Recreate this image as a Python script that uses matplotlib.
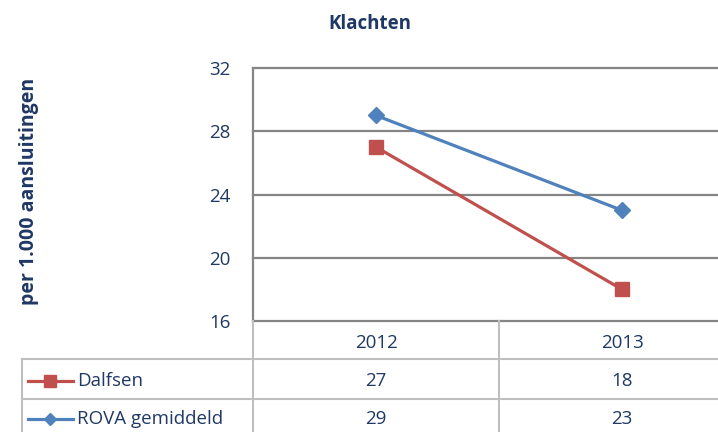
import numpy as np
import matplotlib
matplotlib.use("Agg")
import matplotlib.pyplot as plt
import matplotlib.transforms as mtransforms

years = ["2012", "2013"]
dalfsen = [27, 18]
rova = [29, 23]
series_names = ["Dalfsen", "ROVA gemiddeld"]
yticks = [16, 20, 24, 28, 32]

navy = "#1F3864"
red = "#C0504D"
blue = "#4F81BD"
grid = "#858585"
light = "#BFBFBF"

plt.rcParams['font.family'] = ['Open Sans', 'DejaVu Sans']
fs = 13.5

fig = plt.figure(figsize=(7.18, 4.32), dpi=100)
ax = fig.add_axes([253/718, 1-321/432, 492/718, (321-68)/432])

x = np.arange(len(years))
ax.plot(x, dalfsen, color=red, lw=2.3, marker='s', ms=10, zorder=3)
ax.plot(x, rova, color=blue, lw=2.3, marker='D', ms=8, zorder=4)

ax.set_xlim(-0.5, 1.5)
ax.set_ylim(16, 32)
ax.set_yticks(yticks)
ax.set_yticklabels([str(t) for t in yticks], color=navy, fontsize=fs)
ax.tick_params(axis='y', length=0, pad=16)
ax.set_xticks([])
for t in yticks:
    ax.axhline(t, color=grid, lw=1.6, zorder=1, clip_on=False)
for s in ['top', 'right', 'bottom']:
    ax.spines[s].set_visible(False)
ax.spines['left'].set_color(grid)
ax.spines['left'].set_linewidth(1.6)

fig.text(370/718, 1-24/432, "Klachten", ha='center', va='center',
         fontsize=13.5, fontweight='bold', color=navy)
fig.text(29/718, 1-191/432, "per 1.000 aansluitingen", rotation=90,
         ha='center', va='center', fontsize=14, fontweight='bold', color=navy)

# data table under the chart
tr = mtransforms.blended_transform_factory(ax.transData, fig.transFigure)
row_y = [1-343/432, 1-381/432, 1-419/432]
for i, yr in enumerate(years):
    ax.text(x[i], row_y[0], yr, transform=tr, ha='center', va='center',
            fontsize=fs, color=navy, clip_on=False)
    ax.text(x[i], row_y[1], str(dalfsen[i]), transform=tr, ha='center',
            va='center', fontsize=fs, color=navy, clip_on=False)
    ax.text(x[i], row_y[2], str(rova[i]), transform=tr, ha='center',
            va='center', fontsize=fs, color=navy, clip_on=False)

# table grid lines
for yy in [1-359/432, 1-399/432]:
    fig.add_artist(plt.Line2D([22/718, 1], [yy, yy], color=light, lw=1.5))
fig.add_artist(plt.Line2D([22/718, 22/718], [1-359/432, 0], color=light, lw=1.5))
fig.add_artist(plt.Line2D([253/718, 253/718], [1-321/432, 0], color=light, lw=1.5))
ax.plot([0.5, 0.5], [0, 1-321/432], transform=tr, color=light, lw=1.5, clip_on=False)

# legend keys in the table
colors = [red, blue]
markers = ['s', 'D']
msizes = [9, 6]
for i, name in enumerate(series_names):
    yy = row_y[i + 1]
    fig.add_artist(plt.Line2D([28/718, 73/718], [yy, yy], color=colors[i], lw=2.3))
    fig.add_artist(plt.Line2D([50/718], [yy], color=colors[i], marker=markers[i],
                              ms=msizes[i], lw=0))
    fig.text(77/718, yy, name, ha='left', va='center', fontsize=fs, color=navy)

fig.savefig("out.png", dpi=100)
